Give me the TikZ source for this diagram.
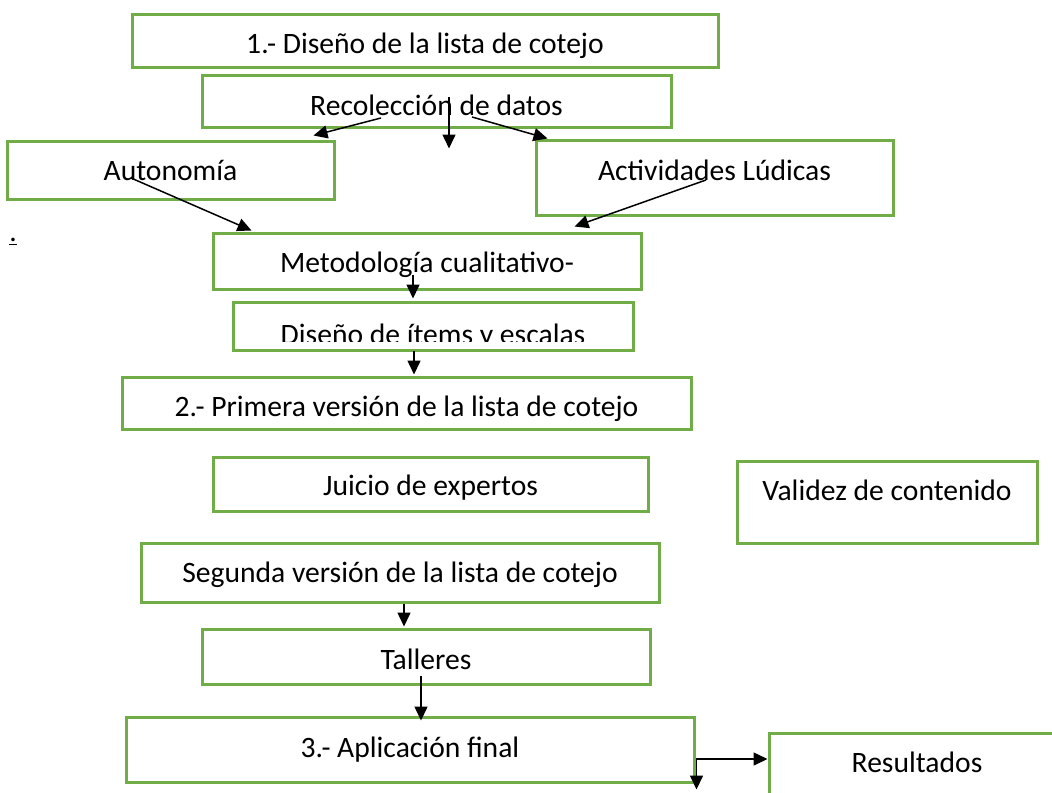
\documentclass[tikz,border=0pt]{standalone}
\usepackage{fontspec}
\setmainfont{Carlito}
\usepackage{tikz}
\usetikzlibrary{calc}
\usetikzlibrary{arrows.meta}
\definecolor{verde}{HTML}{70AD47}
\tikzset{
  texto/.style={inner sep=0pt,text depth=0pt,font=\fontsize{14.8}{17}\selectfont},
  caja/.style={texto,draw=verde,line width=1.5pt,rectangle},
  flecha/.style={line width=0.75pt,-{Triangle[length=7pt,width=6.5pt]}}
}

\begin{document}
\begin{tikzpicture}[x=0.5pt,y=-0.5pt]
        \useasboundingbox (0,0) rectangle (1052,792);
        \clip (0,0) rectangle (1052,792);
        \fill[white] (0,0) rectangle (1052,792);
        \node[caja,minimum width=293pt,minimum height=26.5pt,text height=12pt] (dis) at (425,41.5) {1.- Diseño de la lista de cotejo};
        \node[caja,minimum width=234.5pt,minimum height=25.5pt,text height=14pt] (rec) at (436.5,101.5) {Recolección de datos};
        \node[caja,minimum width=163.5pt,minimum height=29pt,text height=10.5pt] (aut) at (170.5,170) {Autonomía};
        \node[caja,minimum width=178.5pt,minimum height=37.5pt,text height=3pt] (act) at (714.5,177.5) {Actividades Lúdicas};
        \node[texto] (punto) at (13,240) {\underline{.}};
        \node[caja,minimum width=214pt,minimum height=28pt,text height=11.5pt] (met) at (427,261) {Metodología cualitativo-};
        \node[caja,minimum width=200pt,minimum height=24pt] (ite) at (433,326) {};
        \begin{scope}
          \clip (ite.north west) rectangle ($(ite.south east)+(0,-10)$);
          \node[texto,text height=18pt] (iteT) at (ite) {Diseño de ítems y escalas};
        \end{scope}
        \node[caja,minimum width=284.5pt,minimum height=26pt,text height=13.5pt] (pri) at (406.5,403) {2.- Primera versión de la lista de cotejo};
        \node[caja,minimum width=217.5pt,minimum height=27pt,text height=11.5pt] (jui) at (430.5,484) {Juicio de expertos};
        \node[caja,minimum width=150pt,minimum height=41pt,text height=0pt,text depth=1.5pt] (val) at (887,502) {Validez de contenido};
        \node[caja,minimum width=259pt,minimum height=29.5pt,text height=10pt] (seg) at (400,572.5) {Segunda versión de la lista de cotejo};
        \node[caja,minimum width=224pt,minimum height=27.5pt,text height=13pt] (tal) at (426,656.5) {Talleres};
        \node[caja,minimum width=284pt,minimum height=32.5pt,text height=8pt] (apl) at (410,749.5) {3.- Aplicación final};
        \node[caja,minimum width=148pt,minimum height=38.5pt,text height=1pt] (res) at (917,771.5) {Resultados};

        \draw[flecha] ($(rec)+(-55.5,16.5)$) -- ($(aut.north east)+(-22,-4)$);
        \draw[flecha] ($(rec)+(12.5,-4.5)$) -- ($(rec.south)+(12.5,20)$);
        \draw[flecha] ($(rec)+(35.5,15.5)$) -- ($(act.north west)+(13,0)$);
        \draw[flecha] ($(aut)+(-39.5,8)$) -- ($(met.north west)+(40,-1)$);
        \draw[flecha] ($(act)+(-8.5,2.5)$) -- ($(met.north east)+(-68,-5)$);
        \draw[flecha] ($(met.south)+(-14,-16)$) -- ($(ite.north)+(-20,-2)$);
        \draw[flecha] ($(ite.south)+(-19,-1)$) -- ($(pri.north)+(7.5,-1)$);
        \draw[flecha] ($(seg.south)+(4,0)$) -- ($(tal.north)+(-22,-1)$);
        \draw[flecha] ($(tal.south)+(-5,-10)$) -- ($(apl.north)+(11,5)$);
        \draw[flecha] ($(apl.east)+(0,9.5)$) -- ($(res.west)+(0,-12.5)$);
        \draw[flecha] ($(apl.east)+(1,9.5)$) -- ($(apl.south east)+(1,6)$);
\end{tikzpicture}
\end{document}
